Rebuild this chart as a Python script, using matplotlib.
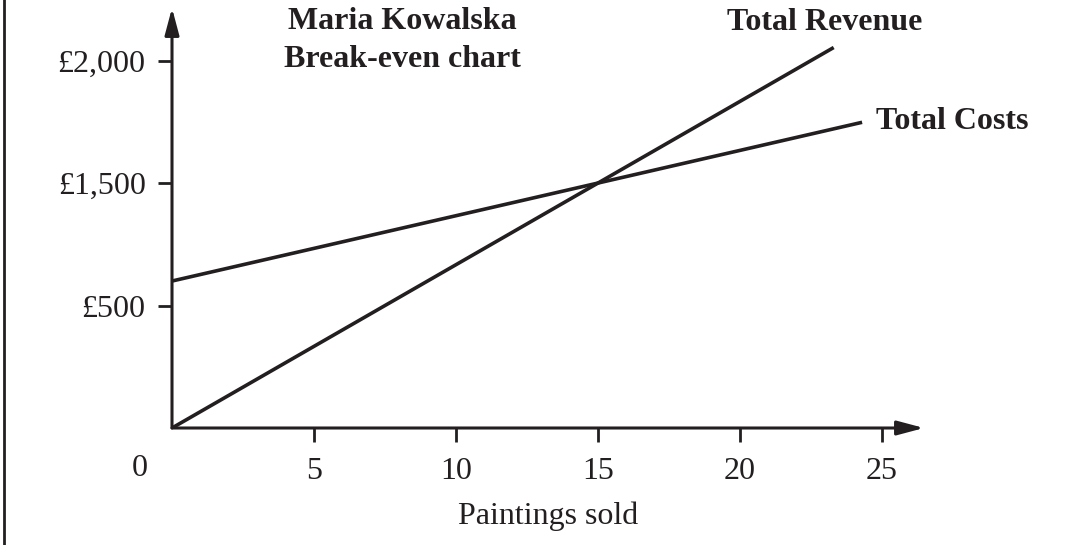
import matplotlib.pyplot as plt
from matplotlib.lines import Line2D

plt.rcParams['font.family'] = ['Liberation Serif', 'DejaVu Serif']
ink = '#231f20'

# lines (paintings sold, pounds)
revenue_x = [0, 15, 23.3]
revenue_y = [0, 1500, 2330]
costs_x = [0, 15, 24.3]
costs_y = [900, 1500, 1872]

x_ticks = [5, 10, 15, 20, 25]
# y tick marks sit where the original drew them
y_tick_pos = [750, 1500, 2250]
y_tick_labels = ['£500', '£1,500', '£2,000']

fig = plt.figure(figsize=(10.65, 5.45), dpi=100)
ax = fig.add_axes([172 / 1065, 117 / 545, 752 / 1065, 420 / 545])

ax.plot(revenue_x, revenue_y, color=ink, lw=2.6, solid_capstyle='butt')
ax.plot(costs_x, costs_y, color=ink, lw=2.6, solid_capstyle='butt')

ax.set_xlim(0, 26.48)
ax.set_ylim(0, 2572)
for s in ax.spines.values():
    s.set_visible(False)

# axes drawn as arrows
arrow = dict(arrowstyle='-|>,head_length=0.9,head_width=0.24', lw=2.2, color=ink,
             shrinkA=0, shrinkB=0, mutation_scale=18)
ax.annotate('', xy=(1, 0), xytext=(0, 0), xycoords='axes fraction', arrowprops=arrow)
ax.annotate('', xy=(0, 1), xytext=(0, 0), xycoords='axes fraction', arrowprops=arrow)

ax.set_xticks(x_ticks)
ax.set_yticks(y_tick_pos)
ax.set_yticklabels(y_tick_labels)
ax.tick_params(direction='out', length=10, width=2, color=ink, labelcolor=ink,
               labelsize=23)
ax.tick_params(axis='x', pad=11)
ax.tick_params(axis='y', pad=9)
ax.annotate('0', xy=(0, 0), xytext=(-32, -41), textcoords='offset pixels',
            ha='center', va='center', fontsize=23, color=ink)

ax.set_xlabel('Paintings sold', fontsize=23, color=ink, labelpad=11)

ax.text(8.1, 2372, 'Maria Kowalska\nBreak-even chart', ha='center', va='center',
        fontsize=23, fontweight='bold', color=ink, linespacing=1.4)
ax.text(19.55, 2486, 'Total Revenue', ha='left', va='center',
        fontsize=23, fontweight='bold', color=ink)
ax.text(24.8, 1880, 'Total Costs', ha='left', va='center',
        fontsize=23, fontweight='bold', color=ink, clip_on=False)

fig.add_artist(Line2D([4 / 1065, 4 / 1065], [0, 1], transform=fig.transFigure,
                      color=ink, lw=2))

fig.savefig('out.png', dpi=100)
